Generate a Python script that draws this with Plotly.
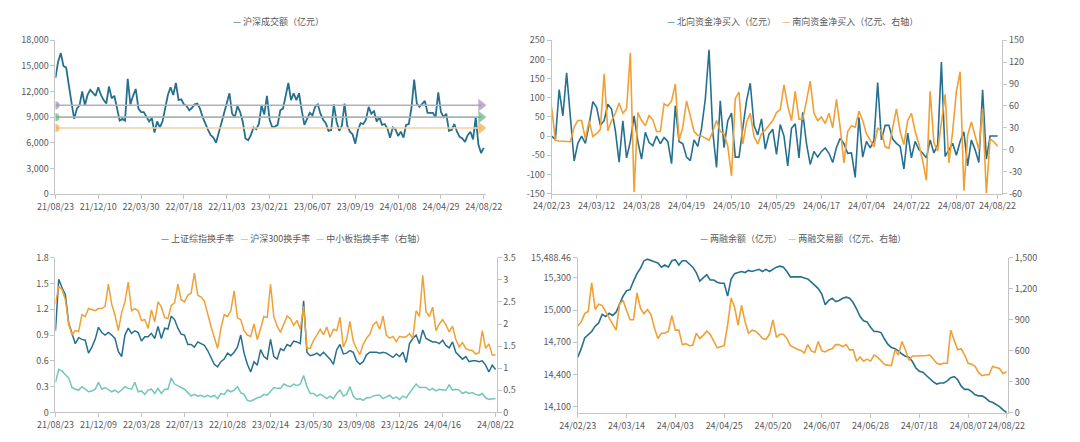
import plotly.graph_objects as go

# ---------------- data ----------------
# Panel 1: 沪深成交额（亿元）
vol_ticks = ["21/08/23", "21/12/10", "22/03/30", "22/07/18", "22/11/03", "23/02/21",
             "23/06/07", "23/09/19", "24/01/08", "24/04/29", "24/08/22"]
vol_values = [13600, 15500, 16500, 15000, 14800, 13000, 10700, 8800, 10000, 10400,
              12000, 10400, 11600, 12200, 11900, 11500, 12500, 11600, 11000, 10600,
              12600, 11200, 11500, 9900, 8600, 8800, 8600, 13500, 10500, 11500,
              12300, 10000, 9600, 9600, 9000, 8500, 8900, 7200, 8500, 7800,
              8500, 10000, 11600, 12500, 11600, 13000, 11000, 11100, 10500, 10300,
              9800, 10100, 10500, 10600, 10000, 9000, 8200, 7500, 6900, 6600,
              6000, 7200, 8400, 9700, 10700, 11800, 9400, 9000, 10300, 9600,
              8400, 6500, 6300, 6900, 7800, 7600, 8200, 10400, 9300, 11500,
              8700, 7800, 7900, 8100, 9800, 10000, 11500, 13000, 11000, 11800,
              11000, 11800, 9800, 8100, 8800, 9500, 9200, 10200, 10500, 9400,
              8700, 8300, 7400, 7500, 10500, 8500, 7400, 8000, 10600, 8000,
              7300, 7000, 5900, 7500, 8300, 8200, 8700, 10200, 9400, 9700,
              8500, 9000, 8100, 8200, 7700, 6600, 7800, 7600, 6800, 7300,
              6600, 8100, 8200, 10100, 13400, 10600, 10200, 10600, 10900, 9500,
              9500, 9500, 9000, 11900, 9600, 9000, 9400, 7400, 7500, 8200,
              7300, 6700, 6500, 6100, 6900, 7300, 6400, 9000, 5800, 4800, 5400]
vol_ref_levels = [10400, 9000, 7730]
vol_yticks = [0, 3000, 6000, 9000, 12000, 15000, 18000]

# Panel 2: 北向 / 南向资金净买入
flow_ticks = ["24/02/23", "24/03/12", "24/03/28", "24/04/19", "24/05/10", "24/05/29",
              "24/06/17", "24/07/04", "24/07/22", "24/08/07", "24/08/22"]
north_values = [0, -9, 121, 53, 165, 55, -65, -19, 0, -19,
                30, 90, 75, 28, 40, 83, 70, 15, -68, 40,
                -57, -14, 53, -14, -60, 10, -17, -25, 0, -20,
                -4, -14, -72, 79, -14, -20, -55, -64, -10, -27,
                20, 96, 225, 11, -82, 92, -30, 40, 60, -55,
                -55, 20, 92, 138, 28, 3, 45, -34, 5, 18,
                -48, 30, 0, -78, 20, 32, -57, 62, -20, -74,
                -40, -55, -40, -31, -45, -69, -30, -6, -20, -45,
                -44, -108, 49, -55, -14, -31, -12, 140, -10, 28,
                28, -8, -19, -27, -86, 8, -57, -14, -35, -44,
                -57, -10, -44, -23, 193, -53, -35, -19, -50, -14,
                11, -78, -10, -36, -69, 121, -60, 0, 0, 0]
south_values = [58, 13, 12, 12, 12, 11, 31, 40, 40, 15,
                40, 18, 22, 28, 104, 26, 40, 50, 64, 50,
                56, 133, -58, 51, 40, 33, 47, 41, 25, 25,
                63, 60, 67, 90, 13, 31, 67, 45, 25, 20,
                19, 16, 13, 25, 40, 25, 22, 5, -36, 70,
                79, 8, 38, 50, 18, 8, 22, 27, 34, 40,
                51, 55, 89, 60, 40, 80, 42, 42, 67, 94,
                50, 40, 45, 36, 50, 30, 69, 30, -18, 25,
                33, 31, 53, 40, 22, 12, 4, 30, 25, 4,
                2, 30, 56, 25, 7, 40, 50, 25, 8, -15,
                -42, 80, 10, -2, 36, 76, -18, 25, 80, 107,
                -56, 20, 38, 20, 0, 56, -60, 15, 11, 5]
flow_left_ticks = [-150, -100, -50, 0, 50, 100, 150, 200, 250]
flow_right_ticks = [-60, -30, 0, 30, 60, 90, 120, 150]

# Panel 3: 换手率
turn_ticks = ["21/08/23", "21/12/09", "22/03/28", "22/07/13", "22/10/28", "23/02/14",
              "23/05/30", "23/09/08", "23/12/26", "24/04/16", "24/08/22"]
sh_turnover = [0.95, 1.55, 1.45, 1.37, 1.04, 0.92, 0.80, 0.87, 0.85, 0.84,
               0.69, 0.76, 0.85, 0.99, 0.93, 0.90, 0.93, 0.90, 0.86, 0.71,
               0.65, 0.90, 0.98, 0.92, 0.95, 0.93, 0.83, 0.88, 0.88, 0.92,
               0.86, 1.00, 0.86, 0.98, 0.97, 1.12, 1.08, 0.98, 0.91, 0.90,
               0.79, 0.79, 0.76, 0.82, 0.80, 0.78, 0.72, 0.64, 0.56, 0.53,
               0.59, 0.62, 0.69, 0.66, 0.70, 0.76, 0.90, 0.69, 0.56, 0.47,
               0.59, 0.55, 0.73, 0.65, 0.62, 0.85, 0.65, 0.62, 0.74, 0.72,
               0.79, 0.77, 0.83, 0.82, 0.80, 1.30, 0.70, 0.66, 0.67, 0.69,
               0.66, 0.70, 0.66, 0.62, 0.56, 0.73, 0.79, 0.68, 0.69, 0.72,
               0.70, 0.60, 0.56, 0.59, 0.67, 0.70, 0.70, 0.70, 0.69, 0.70,
               0.69, 0.66, 0.64, 0.68, 0.65, 0.70, 0.58, 0.80, 0.86, 0.90,
               0.80, 0.96, 0.86, 0.84, 0.82, 0.82, 0.80, 0.84, 0.78, 0.75,
               0.82, 0.70, 0.66, 0.62, 0.65, 0.59, 0.60, 0.60, 0.59, 0.60,
               0.55, 0.47, 0.55, 0.50]
hs300_turnover = [0.35, 0.50, 0.48, 0.44, 0.40, 0.29, 0.27, 0.26, 0.30, 0.27,
                  0.24, 0.25, 0.27, 0.35, 0.27, 0.29, 0.26, 0.24, 0.26, 0.23,
                  0.26, 0.30, 0.28, 0.27, 0.35, 0.24, 0.25, 0.21, 0.26, 0.27,
                  0.22, 0.28, 0.22, 0.27, 0.27, 0.40, 0.33, 0.31, 0.29, 0.27,
                  0.23, 0.19, 0.21, 0.19, 0.20, 0.18, 0.20, 0.18, 0.20, 0.16,
                  0.22, 0.21, 0.26, 0.24, 0.26, 0.30, 0.23, 0.21, 0.14, 0.13,
                  0.15, 0.17, 0.18, 0.21, 0.20, 0.24, 0.29, 0.28, 0.28, 0.33,
                  0.31, 0.30, 0.33, 0.31, 0.33, 0.43, 0.30, 0.22, 0.22, 0.19,
                  0.21, 0.19, 0.16, 0.19, 0.16, 0.22, 0.26, 0.19, 0.21, 0.30,
                  0.19, 0.15, 0.16, 0.14, 0.17, 0.17, 0.19, 0.20, 0.20, 0.16,
                  0.18, 0.20, 0.16, 0.18, 0.15, 0.19, 0.17, 0.23, 0.28, 0.33,
                  0.29, 0.29, 0.29, 0.26, 0.28, 0.25, 0.27, 0.26, 0.26, 0.32,
                  0.26, 0.27, 0.26, 0.22, 0.24, 0.22, 0.23, 0.21, 0.20, 0.22,
                  0.17, 0.15, 0.16, 0.16]
sme_turnover = [2.46, 2.85, 2.78, 2.55, 2.00, 1.75, 1.85, 1.83, 2.21, 2.17,
                2.35, 2.32, 2.30, 2.35, 2.35, 2.40, 2.90, 2.45, 2.20, 1.85,
                2.25, 2.50, 2.95, 2.30, 2.35, 2.30, 2.08, 2.10, 1.90, 2.32,
                2.05, 2.50, 2.39, 2.15, 2.12, 2.42, 2.48, 2.90, 2.55, 2.50,
                2.65, 2.70, 3.15, 2.65, 2.61, 2.52, 2.22, 1.95, 1.70, 1.45,
                1.90, 2.21, 2.17, 2.30, 2.75, 2.14, 2.10, 1.85, 1.75, 1.72,
                2.00, 1.65, 1.90, 2.17, 2.15, 2.90, 2.17, 1.95, 1.81, 2.00,
                2.18, 2.12, 1.97, 2.08, 1.88, 2.40, 1.45, 1.45, 1.63, 1.75,
                1.88, 1.76, 1.93, 1.70, 1.88, 1.85, 2.15, 1.48, 1.65, 2.06,
                1.61, 1.44, 1.31, 1.54, 1.68, 1.77, 1.98, 2.05, 1.88, 2.18,
                1.75, 1.68, 1.72, 1.60, 1.72, 1.70, 1.71, 1.78, 1.68, 2.30,
                2.17, 3.10, 2.28, 2.17, 2.38, 1.85, 2.00, 2.10, 1.98, 1.82,
                1.95, 1.65, 1.48, 1.58, 1.45, 1.41, 1.40, 1.32, 1.35, 1.85,
                1.45, 1.55, 1.30, 1.30]
turn_left_ticks = [0, 0.3, 0.6, 0.9, 1.2, 1.5, 1.8]
turn_left_text = ["0", "0.3", "0.6", "0.9", "1.2", "1.5", "1.8"]
turn_right_ticks = [0, 0.5, 1, 1.5, 2, 2.5, 3, 3.5]
turn_right_text = ["0", "0.5", "1", "1.5", "2", "2.5", "3", "3.5"]

# Panel 4: 两融
margin_ticks = ["24/02/23", "24/03/14", "24/04/03", "24/04/25", "24/05/20",
                "24/06/07", "24/06/28", "24/07/18", "24/08/07", "24/08/22"]
margin_balance = [14560, 14640, 14740, 14770, 14800, 14850, 14880, 14960, 14940, 14970,
                  14950, 14980, 15060, 15130, 15180, 15190, 15270, 15340, 15390, 15460,
                  15475, 15460, 15450, 15440, 15400, 15420, 15400, 15460, 15470, 15420,
                  15460, 15460, 15430, 15400, 15350, 15270, 15300, 15330, 15280, 15280,
                  15260, 15250, 15250, 15130, 15290, 15340, 15350, 15360, 15350, 15370,
                  15360, 15370, 15380, 15360, 15380, 15360, 15380, 15400, 15410, 15400,
                  15360, 15310, 15310, 15310, 15310, 15300, 15290, 15260, 15230, 15200,
                  15150, 15050, 15090, 15110, 15080, 15090, 15110, 15120, 15110, 15070,
                  15010, 14940, 14900, 14890, 14840, 14800, 14800, 14790, 14730, 14680,
                  14650, 14640, 14620, 14590, 14570, 14560, 14520, 14460, 14430, 14420,
                  14390, 14360, 14330, 14310, 14320, 14320, 14340, 14370, 14380, 14350,
                  14290, 14260, 14260, 14240, 14210, 14200, 14200, 14180, 14150, 14140,
                  14120, 14100, 14070, 14045]
margin_turnover = [840, 880, 960, 980, 1260, 1000, 1050, 1040, 980, 920,
                   860, 800, 1050, 1090, 990, 900, 900, 1160, 1010, 960,
                   1000, 950, 820, 720, 770, 770, 790, 940, 800, 800,
                   660, 670, 650, 655, 770, 720, 750, 790, 760, 700,
                   630, 640, 650, 850, 1110, 1020, 850, 1040, 880, 770,
                   800, 790, 760, 720, 710, 760, 900, 730, 760, 760,
                   720, 650, 630, 615, 605, 580, 660, 600, 585, 690,
                   600, 590, 610, 620, 660, 660, 640, 660, 610, 610,
                   500, 540, 500, 520, 500, 560, 540, 500, 470, 460,
                   460, 610, 560, 690, 610, 510, 550, 550, 550, 550,
                   555, 560, 520, 480, 470, 480, 480, 800, 700, 610,
                   620, 560, 480, 470, 450, 390, 360, 370, 370, 450,
                   440, 430, 380, 400]
margin_left_ticks = [14100, 14400, 14700, 15000, 15300, 15488.46]
margin_left_text = ["14,100", "14,400", "14,700", "15,000", "15,300", "15,488.46"]
margin_right_ticks = [0, 300, 600, 900, 1200, 1500]

# ---------------- style ----------------
W, H = 1080, 442
FONT = "Noto Sans CJK SC, Noto Sans, sans-serif"
TXT = "#595959"
AX = "#C4C4C4"
BLUE = "#26708F"
ORANGE = "#F0A035"
TEAL = "#72C6BB"
REF_LINE = ["#B4AEBB", "#A9B5AC", "#F4CFA4"]
REF_MARK = ["#A48DB8", "#68AE82", "#F3A84C"]


def fx(px):
    return px / W


def fy(py):
    return 1 - py / H


def tick_positions(n, step, count):
    pos = [k * step for k in range(count - 1)]
    pos.append(n - 1)
    return pos


fig = go.Figure()

# Panel 1
n1 = len(vol_values)
fig.add_trace(go.Scatter(x=list(range(n1)), y=vol_values, mode="lines",
                         line=dict(color=BLUE, width=1.8), xaxis="x", yaxis="y",
                         showlegend=False))
for lvl, lc, mc in zip(vol_ref_levels, REF_LINE, REF_MARK):
    fig.add_trace(go.Scatter(x=[0, n1 - 2], y=[lvl, lvl], mode="lines+markers",
                             line=dict(color=lc, width=1.6),
                             marker=dict(symbol=["circle", "triangle-right"], size=[8, 11],
                                         color=mc, line=dict(width=0)),
                             xaxis="x", yaxis="y", showlegend=False))

# Panel 2
n2 = len(north_values)
fig.add_trace(go.Scatter(x=list(range(n2)), y=north_values, mode="lines",
                         line=dict(color=BLUE, width=1.6), xaxis="x2", yaxis="y2",
                         showlegend=False))
fig.add_trace(go.Scatter(x=list(range(len(south_values))), y=south_values, mode="lines",
                         line=dict(color=ORANGE, width=1.6), xaxis="x2", yaxis="y3",
                         showlegend=False))

# Panel 3
n3 = len(sh_turnover)
fig.add_trace(go.Scatter(x=list(range(len(sme_turnover))), y=sme_turnover, mode="lines",
                         line=dict(color=ORANGE, width=1.5), xaxis="x3", yaxis="y5",
                         showlegend=False))
fig.add_trace(go.Scatter(x=list(range(n3)), y=sh_turnover, mode="lines",
                         line=dict(color=BLUE, width=1.5), xaxis="x3", yaxis="y4",
                         showlegend=False))
fig.add_trace(go.Scatter(x=list(range(len(hs300_turnover))), y=hs300_turnover, mode="lines",
                         line=dict(color=TEAL, width=1.5), xaxis="x3", yaxis="y4",
                         showlegend=False))

# Panel 4
n4 = len(margin_balance)
fig.add_trace(go.Scatter(x=list(range(n4)), y=margin_balance, mode="lines",
                         line=dict(color=BLUE, width=1.6), xaxis="x4", yaxis="y6",
                         showlegend=False))
fig.add_trace(go.Scatter(x=list(range(len(margin_turnover))), y=margin_turnover, mode="lines",
                         line=dict(color=ORANGE, width=1.6), xaxis="x4", yaxis="y7",
                         showlegend=False))

tickfont = dict(family=FONT, size=9, color=TXT)
base_axis = dict(showgrid=False, zeroline=False, showline=True, linecolor=AX, linewidth=1,
                 ticks="outside", ticklen=4, tickcolor=AX, tickfont=tickfont, fixedrange=True)


def xaxis(domain, n, pad, step, labels, anchor):
    return dict(base_axis, domain=[fx(domain[0]), fx(domain[1])], anchor=anchor,
                range=[0, n - 1 + pad], tickmode="array", tickangle=0,
                tickvals=tick_positions(n, step, len(labels)), ticktext=labels)


def yaxis(domain, rng, vals, text, anchor, side="left", overlaying=None):
    d = dict(base_axis, domain=[fy(domain[1]), fy(domain[0])], anchor=anchor, side=side,
             range=rng, tickmode="array", tickvals=vals, ticktext=text)
    if overlaying:
        d["overlaying"] = overlaying
    return d


def fmt_thousands(v):
    return f"{v:,}"


fig.update_layout(
    width=W, height=H, margin=dict(l=0, r=0, t=0, b=0),
    paper_bgcolor="white", plot_bgcolor="white",
    font=dict(family=FONT, color=TXT),
    xaxis=xaxis((37.7, 483), n1, 0.8, 16, vol_ticks, "y"),
    yaxis=yaxis((34.3, 192.7), [0, 18000], vol_yticks,
                [fmt_thousands(v) for v in vol_yticks], "x"),
    xaxis2=xaxis((551, 1017), n2, 1.2, 12, flow_ticks, "y2"),
    yaxis2=yaxis((34.3, 192.2), [-150, 250], flow_left_ticks,
                 [str(v) for v in flow_left_ticks], "x2"),
    yaxis3=yaxis((34.3, 192.2), [-60, 150], flow_right_ticks,
                 [str(v) for v in flow_right_ticks], "x2", side="right", overlaying="y2"),
    xaxis3=xaxis((37.7, 494), n3, 0.3, 13, turn_ticks, "y4"),
    yaxis4=yaxis((258.3, 417.7), [0, 1.8], turn_left_ticks, turn_left_text, "x3"),
    yaxis5=yaxis((258.3, 417.7), [0, 3.5], turn_right_ticks, turn_right_text, "x3",
                 side="right", overlaying="y4"),
    xaxis4=xaxis((578, 1023), n4, 0.4, 14, margin_ticks, "y6"),
    yaxis6=yaxis((258.3, 418.3), [14040, 15488.46], margin_left_ticks, margin_left_text, "x4"),
    yaxis7=yaxis((258.3, 418.3), [0, 1500], margin_right_ticks,
                 [fmt_thousands(v) for v in margin_right_ticks], "x4",
                 side="right", overlaying="y6"),
)


def legend_text(items):
    parts = []
    for name, color in items:
        parts.append(f"<span style='color:{color}'>—</span> {name}")
    return "&nbsp;&nbsp;&nbsp;".join(parts)


legends = [
    (268, 15, [("沪深成交额（亿元）", BLUE)]),
    (800, 15, [("北向资金净买入（亿元）", BLUE), ("南向资金净买入（亿元、右轴）", ORANGE)]),
    (283, 238, [("上证综指换手率", BLUE), ("沪深300换手率", TEAL), ("中小板指换手率（右轴）", ORANGE)]),
    (811, 238, [("两融余额（亿元）", BLUE), ("两融交易额（亿元、右轴）", ORANGE)]),
]
for cx, cy, items in legends:
    fig.add_annotation(x=fx(cx), y=fy(cy), xref="paper", yref="paper", showarrow=False,
                       xanchor="center", yanchor="middle", text=legend_text(items),
                       font=dict(family=FONT, size=9, color=TXT))

fig.write_html("out.html", config={"displayModeBar": False})
